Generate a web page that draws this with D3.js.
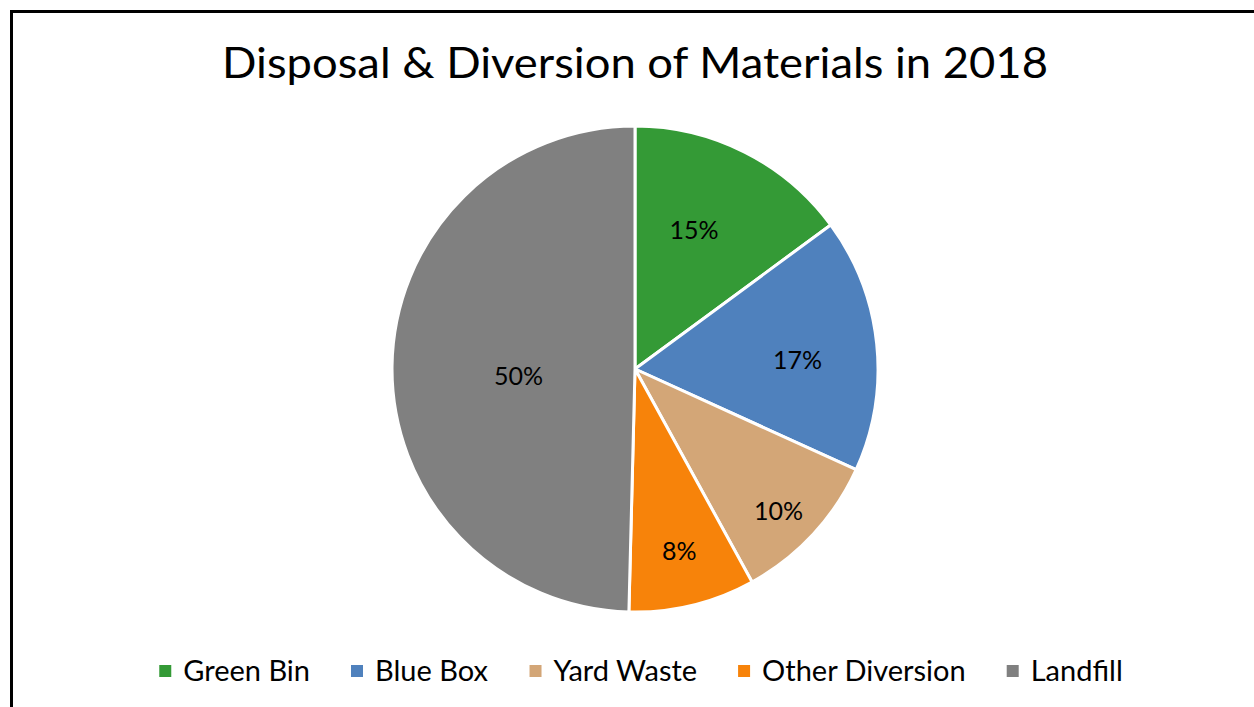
<!DOCTYPE html>
<html>
<head>
<meta charset="utf-8">
<script src="https://cdn.jsdelivr.net/npm/d3@7"></script>
<style>
  body { margin: 0; background: #fff; }
  svg { display: block; font-family: Lato, "Open Sans", sans-serif; }
</style>
</head>
<body>
<svg width="1254" height="707"></svg>
<script>
let categories = ['Green Bin', 'Blue Box', 'Yard Waste', 'Other Diversion', 'Landfill'];
let shares = [14.9, 16.9, 10.2, 8.4, 49.6];
let colors = ['#349a36', '#4f81bd', '#d3a677', '#f7830a', '#808080'];
// where Excel put each label: fraction of the radius, and turn off the mid angle (deg)
let labelRadius = [0.62, 0.67, 0.83, 0.77, 0.48];
let labelTurn = [-3.8, 2.7, 1.8, 0, -4.2];

let svg = d3.select('svg');
let width = +svg.attr('width');
let height = +svg.attr('height');

// chart frame: left and top edges are visible
svg.append('path')
    .attr('d', `M11.5,${height} V11.5 H${width}`)
    .attr('fill', 'none')
    .attr('stroke', '#000')
    .attr('stroke-width', 3);

// title
svg.append('text')
    .attr('x', 635)
    .attr('y', 78)
    .attr('text-anchor', 'middle')
    .attr('font-size', 43)
    .attr('textLength', 826)
    .attr('lengthAdjust', 'spacingAndGlyphs')
    .text('Disposal & Diversion of Materials in 2018');

let cx = 635, cy = 369, r = 243;
let g = svg.append('g').attr('transform', `translate(${cx}, ${cy})`);

let pie = d3.pie().sort(null).value((d) => d.v);
let arcs = pie(categories.map((c, i) => ({ c: c, v: shares[i], i: i })));
let arc = d3.arc().innerRadius(0).outerRadius(r);

g.selectAll('path')
    .data(arcs)
  .enter().append('path')
    .attr('d', arc)
    .attr('fill', (d) => colors[d.data.i])
    .attr('stroke', '#fff')
    .attr('stroke-width', 3)
    .attr('stroke-linejoin', 'round');

g.selectAll('text.lbl')
    .data(arcs)
  .enter().append('text')
    .attr('class', 'lbl')
    .attr('transform', (d) => {
      let rr = r * labelRadius[d.data.i];
      let a = (d.startAngle + d.endAngle) / 2 + labelTurn[d.data.i] * Math.PI / 180;
      return `translate(${rr * Math.sin(a)}, ${-rr * Math.cos(a)})`;
    })
    .attr('text-anchor', 'middle')
    .attr('dy', '0.36em')
    .attr('font-size', 25)
    .text((d) => Math.round(d.data.v) + '%');

// legend
let legend = svg.append('g').attr('transform', 'translate(0, 671)');
let items = legend.selectAll('g')
    .data(categories)
  .enter().append('g');
items.append('rect')
    .attr('y', -6)
    .attr('width', 12)
    .attr('height', 12)
    .attr('fill', (d, i) => colors[i]);
items.append('text')
    .attr('x', 24)
    .attr('dy', '0.36em')
    .attr('font-size', 29)
    .text((d) => d);

let gap = 41;
let x = 0;
let offsets = [];
items.each(function () {
  offsets.push(x);
  x += this.getBBox().width + gap;
});
let total = x - gap;
let start = 641 - total / 2;
items.attr('transform', (d, i) => `translate(${start + offsets[i]}, 0)`);
</script>
</body>
</html>
